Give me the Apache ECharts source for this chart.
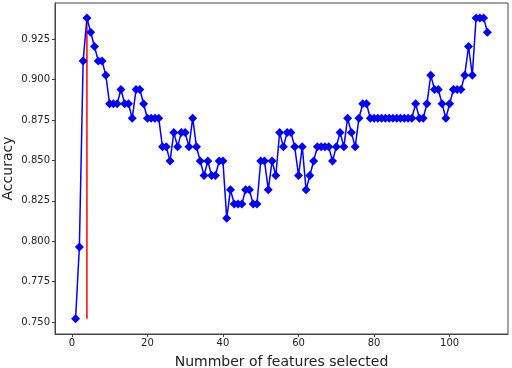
<!DOCTYPE html>
<html lang="en" style="height: 100%">
<head>
    <meta charset="UTF-8">
    <title>Accuracy vs features</title>
    <script src="https://cdn.jsdelivr.net/npm/echarts@6/dist/echarts.min.js"></script>
</head>
<body style="height: 100%; margin: 0; background: #fff">
    <div id="main" style="width: 512px; height: 368px"></div>
    <script>
        // accuracy for 1..110 selected features
        var accuracy = [
            0.7522, 0.7965, 0.9115, 0.9381, 0.9292, 0.9204, 0.9115, 0.9115, 0.9027, 0.8850,
            0.8850, 0.8850, 0.8938, 0.8850, 0.8850, 0.8761, 0.8938, 0.8938, 0.8850, 0.8761,
            0.8761, 0.8761, 0.8761, 0.8584, 0.8584, 0.8496, 0.8673, 0.8584, 0.8673, 0.8673,
            0.8584, 0.8761, 0.8584, 0.8496, 0.8407, 0.8496, 0.8407, 0.8407, 0.8496, 0.8496,
            0.8142, 0.8319, 0.8230, 0.8230, 0.8230, 0.8319, 0.8319, 0.8230, 0.8230, 0.8496,
            0.8496, 0.8319, 0.8496, 0.8407, 0.8673, 0.8584, 0.8673, 0.8673, 0.8584, 0.8407,
            0.8584, 0.8319, 0.8407, 0.8496, 0.8584, 0.8584, 0.8584, 0.8584, 0.8496, 0.8584,
            0.8673, 0.8584, 0.8761, 0.8673, 0.8584, 0.8761, 0.8850, 0.8850, 0.8761, 0.8761,
            0.8761, 0.8761, 0.8761, 0.8761, 0.8761, 0.8761, 0.8761, 0.8761, 0.8761, 0.8761,
            0.8850, 0.8761, 0.8761, 0.8850, 0.9027, 0.8938, 0.8938, 0.8850, 0.8761, 0.8850,
            0.8938, 0.8938, 0.8938, 0.9027, 0.9204, 0.9027, 0.9381, 0.9381, 0.9381, 0.9292
        ];
        var firstFeatureCount = 1;
        // red marker line at the best feature count
        var bestLine = [[4, 0.7522], [4, 0.9381]];
        var xTicks = [0, 20, 40, 60, 80, 100];
        var yTicks = [0.750, 0.775, 0.800, 0.825, 0.850, 0.875, 0.900, 0.925];

        var points = accuracy.map(function (v, i) {
            return [firstFeatureCount + i, v];
        });

        var font = 'DejaVu Sans';
        var chart = echarts.init(document.getElementById('main'), null, { renderer: 'canvas' });
        chart.setOption({
            animation: false,
            backgroundColor: '#fff',
            grid: {
                left: 55, right: 4, top: 3, bottom: 34,
                outerBoundsMode: 'none',
                containLabel: false,
                show: true, borderColor: '#444', borderWidth: 1, backgroundColor: 'transparent'
            },
            xAxis: {
                type: 'value',
                min: -4.45, max: 115.45,
                name: 'Nummber of features selected',
                nameLocation: 'middle',
                nameGap: 21,
                nameMoveOverlap: false,
                nameTextStyle: { fontFamily: font, fontSize: 14, color: '#222' },
                splitLine: { show: false },
                axisLine: { show: true, onZero: false, lineStyle: { color: '#444', width: 1 } },
                axisTick: { show: true, length: 3, customValues: xTicks, lineStyle: { color: '#444' } },
                axisLabel: {
                    customValues: xTicks, fontFamily: font, fontSize: 10, color: '#222', margin: 4
                }
            },
            yAxis: {
                type: 'value',
                min: 0.7427, max: 0.9473,
                name: 'Accuracy',
                nameLocation: 'middle',
                nameGap: 40,
                nameMoveOverlap: false,
                nameTextStyle: { fontFamily: font, fontSize: 14, color: '#222' },
                splitLine: { show: false },
                axisLine: { show: true, onZero: false, lineStyle: { color: '#444', width: 1 } },
                axisTick: { show: true, length: 3, customValues: yTicks, lineStyle: { color: '#444' } },
                axisLabel: {
                    customValues: yTicks, fontFamily: font, fontSize: 10, color: '#222', margin: 5,
                    formatter: function (v) { return v.toFixed(3); }
                }
            },
            series: [
                {
                    type: 'line',
                    data: bestLine,
                    symbol: 'none',
                    lineStyle: { color: '#ff0000', width: 1.5 },
                    z: 1
                },
                {
                    type: 'line',
                    data: points,
                    symbol: 'path://M0,-1L1,0L0,1L-1,0Z',
                    symbolSize: 9,
                    itemStyle: { color: '#0000ff' },
                    lineStyle: { color: '#0000ff', width: 1.5 },
                    z: 2
                }
            ]
        });
    </script>
</body>
</html>
